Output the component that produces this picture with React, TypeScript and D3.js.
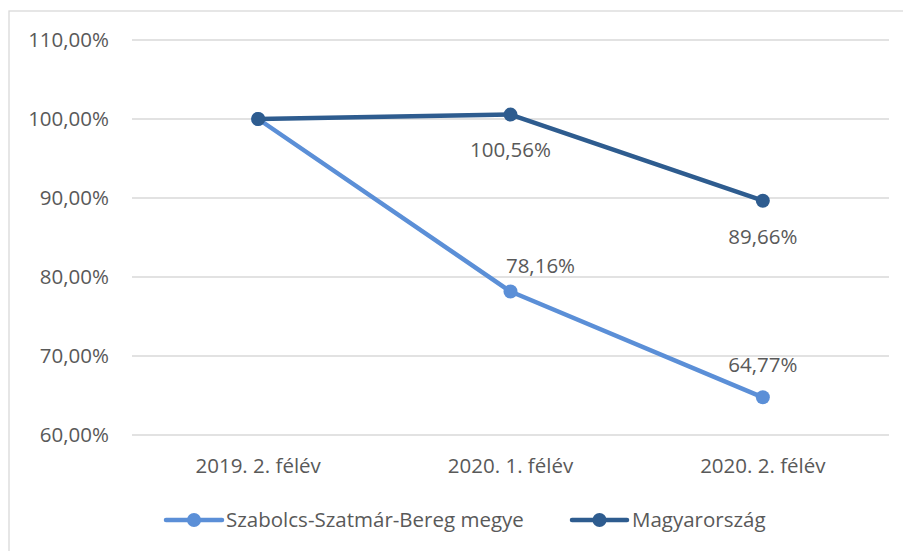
import React from "react";
import * as d3 from "d3";

const categories = ["2019. 2. félév", "2020. 1. félév", "2020. 2. félév"];
const seriesNames = ["Szabolcs-Szatmár-Bereg megye", "Magyarország"];
const szabolcsValues = [100, 78.16, 64.77];
const magyarValues = [100, 100.56, 89.66];
const yTicks = [60, 70, 80, 90, 100, 110];
const showLabel = [false, true, true];

const COLORS = ["#5B8FD7", "#2E5C8F"];
const TEXT = "#595959";
const GRID = "#D9D9D9";
const FONT = "'Open Sans', sans-serif";
const FS = 20.5;

// label offsets (dx, dy) relative to point, per series
const labelOffsets = [
  [[0, 0], [30, -26], [0, -32]],
  [[0, 0], [0, 35], [0, 36]],
];

const fmt = (v: number) => v.toFixed(2).replace(".", ",") + "%";

export default function App() {
  const W = 903, H = 551;
  const left = 132, right = 889, top = 40, bottom = 435;
  const x = d3.scaleBand<string>().domain(categories).range([left, right]);
  const y = d3.scaleLinear().domain([60, 110]).range([bottom, top]);
  const cx = (c: string) => (x(c) as number) + x.bandwidth() / 2;
  const series = [szabolcsValues, magyarValues];
  const line = d3
    .line<number>()
    .x((_, i) => cx(categories[i]))
    .y((d) => y(d));

  const legendItems = [
    { x0: 166, x1: 222, tx: 226 },
    { x0: 572, x1: 627, tx: 632 },
  ];
  const legendY = 520;

  return (
    <svg
      width={W}
      height={H}
      style={{ position: "absolute", left: 0, top: 0, background: "#fff" }}
      fontFamily={FONT}
    >
      <rect x={0} y={0} width={W} height={H} fill="#fff" />
      <rect x={9} y={11} width={W + 20} height={H + 20} fill="none" stroke={GRID} strokeWidth={1.3} />
      {yTicks.map((t) => (
        <g key={t}>
          <line x1={left} x2={right} y1={y(t)} y2={y(t)} stroke={GRID} strokeWidth={1.3} />
          <text x={109} y={y(t)} dy="0.35em" textAnchor="end" fontSize={FS} fill={TEXT}>
            {fmt(t)}
          </text>
        </g>
      ))}
      {categories.map((c) => (
        <text key={c} x={cx(c)} y={466} dy="0.35em" textAnchor="middle" fontSize={FS} fill={TEXT}>
          {c}
        </text>
      ))}
      {series.map((vals, si) => (
        <g key={si}>
          <path d={line(vals) as string} fill="none" stroke={COLORS[si]} strokeWidth={4.5} strokeLinejoin="round" strokeLinecap="round" />
          {vals.map((v, i) => (
            <circle key={i} cx={cx(categories[i])} cy={y(v)} r={7} fill={COLORS[si]} />
          ))}
        </g>
      ))}
      {series.map((vals, si) =>
        vals.map((v, i) =>
          showLabel[i] ? (
            <text
              key={`${si}-${i}`}
              x={cx(categories[i]) + labelOffsets[si][i][0]}
              y={y(v) + labelOffsets[si][i][1]}
              dy="0.35em"
              textAnchor="middle"
              fontSize={FS}
              fill={TEXT}
            >
              {fmt(v)}
            </text>
          ) : null
        )
      )}
      {seriesNames.map((n, si) => {
        const li = legendItems[si];
        return (
          <g key={n}>
            <line x1={li.x0} x2={li.x1} y1={legendY} y2={legendY} stroke={COLORS[si]} strokeWidth={4.5} strokeLinecap="round" />
            <circle cx={(li.x0 + li.x1) / 2} cy={legendY} r={7} fill={COLORS[si]} />
            <text x={li.tx} y={legendY} dy="0.35em" fontSize={FS} fill={TEXT}>
              {n}
            </text>
          </g>
        );
      })}
    </svg>
  );
}
